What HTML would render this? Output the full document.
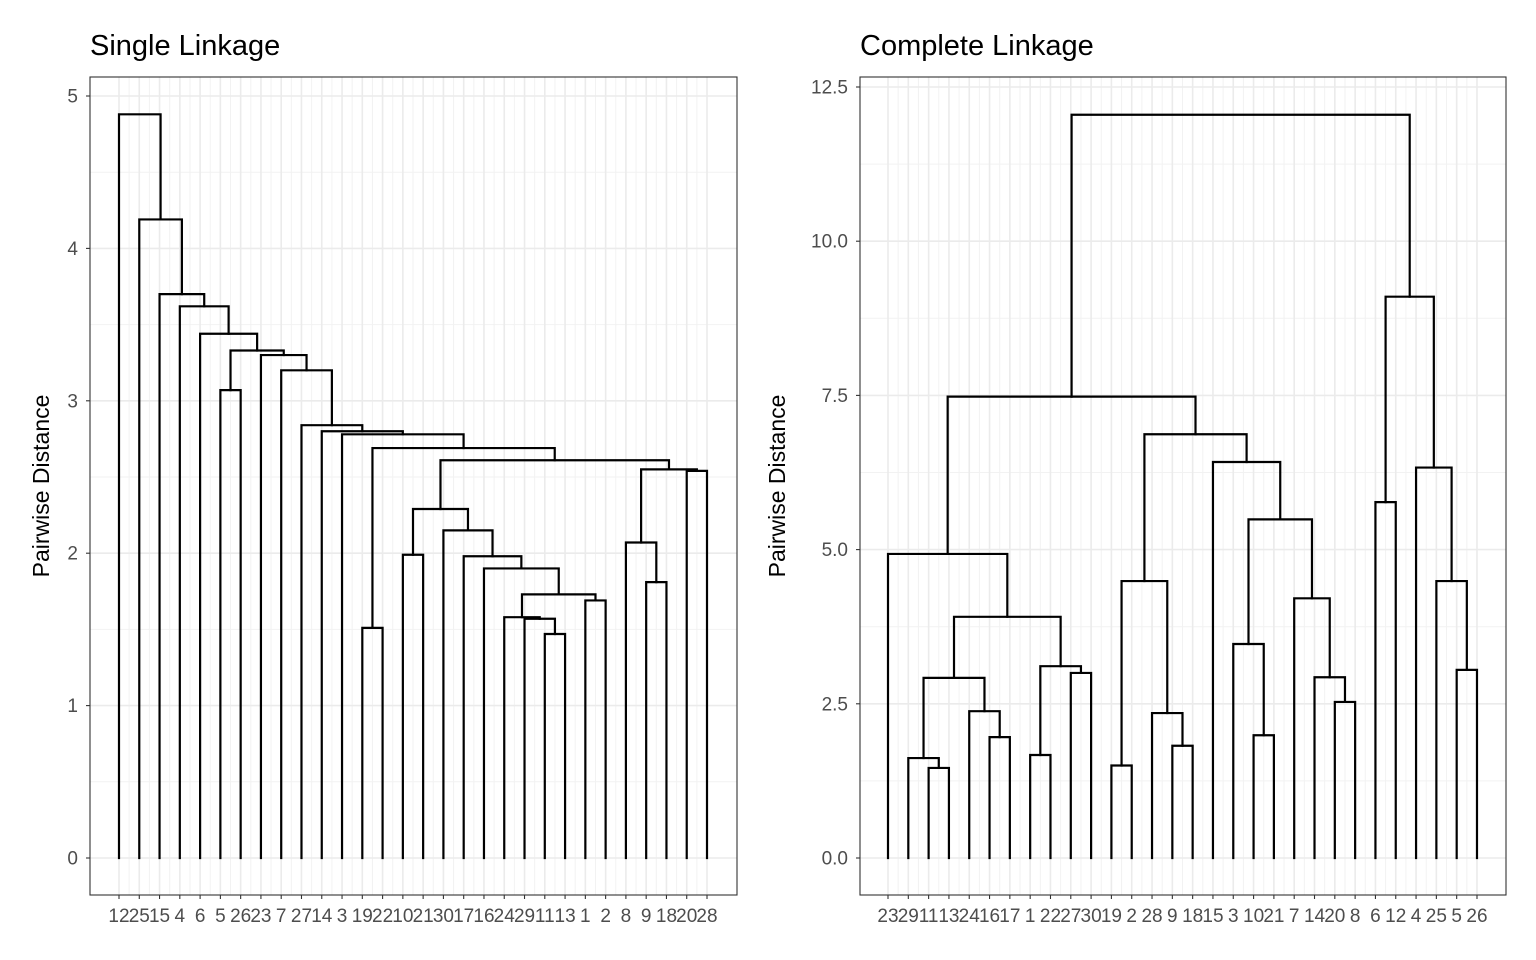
<!DOCTYPE html>
<html><head><meta charset="utf-8">
<style>
html,body{margin:0;padding:0;background:#fff;}
svg{display:block;font-family:"Liberation Sans",Arial,sans-serif;}
</style></head>
<body>
<svg id="chart" width="1536" height="960" viewBox="0 0 1536 960" xmlns="http://www.w3.org/2000/svg"></svg>
<script>
// ---- data ----
const singleLabels = [12,25,15,4,6,5,26,23,7,27,14,3,19,22,10,21,30,17,16,24,29,11,13,1,2,8,9,18,20,28];
const completeLabels = [23,29,11,13,24,16,17,1,22,27,30,19,2,28,9,18,15,3,10,21,7,14,20,8,6,12,4,25,5,26];
// nested merges: [left, right, height]; numbers = leaf index in order
const singleTree =
 [0,[1,[2,[3,[4,[[5,6,3.07],[7,[8,[9,[10,[11,[[12,13,1.51],
   [[[14,15,1.99],[16,[17,[18,[[19,[20,[21,22,1.47],1.57],1.58],[23,24,1.69],1.73],1.90],1.98],2.15],2.29],
    [[25,[26,27,1.81],2.07],[28,29,2.54],2.55],2.61],2.69],2.78],2.80],2.84],3.20],3.30],3.33],3.44],3.62],3.70],4.19],4.88];
const completeTree =
 [[[0,[[[1,[2,3,1.46],1.62],[4,[5,6,1.96],2.38],2.92],[[7,8,1.67],[9,10,3.00],3.11],3.91],4.93],
   [[[11,12,1.50],[13,[14,15,1.82],2.35],4.49],[16,[[17,[18,19,1.99],3.47],[20,[21,[22,23,2.53],2.93],4.21],5.49],6.42],6.87],7.48],
  [[24,25,5.77],[26,[27,[28,29,3.05],4.49],6.33],9.10],12.05];
const singleTicks = [0,1,2,3,4,5];
const singleTickLabels = ["0","1","2","3","4","5"];
const completeTicks = [0,2.5,5,7.5,10,12.5];
const completeTickLabels = ["0.0","2.5","5.0","7.5","10.0","12.5"];

const NS="http://www.w3.org/2000/svg";
const svg=document.getElementById('chart');
function mk(tag,attrs,parent){const e=document.createElementNS(NS,tag);for(const k in attrs)e.setAttribute(k,attrs[k]);(parent||svg).appendChild(e);return e;}

function panel(cfg){
  const g=mk('g',{});
  
  
  const {x0,x1,y0,y1}=cfg;
  const xs=i=>cfg.leaf0+i*cfg.leafStep;
  const ys=v=>cfg.zeroY-v*cfg.pxPerUnit;
  mk('rect',{x:x0,y:y0,width:x1-x0,height:y1-y0,fill:'#fff'},g);
  for(let k=0;k<cfg.ticks.length-1;k++){
    const v=(cfg.ticks[k]+cfg.ticks[k+1])/2;
    mk('line',{x1:x0,x2:x1,y1:ys(v),y2:ys(v),stroke:'#f2f2f2','stroke-width':1},g);
  }
  for(let i=0;i<cfg.labels.length-1;i++){
    const x=xs(i+0.5);
    mk('line',{x1:x,x2:x,y1:y0,y2:y1,stroke:'#f2f2f2','stroke-width':1},g);
  }
  cfg.ticks.forEach(v=>mk('line',{x1:x0,x2:x1,y1:ys(v),y2:ys(v),stroke:'#ebebeb','stroke-width':1.6},g));
  cfg.labels.forEach((l,i)=>mk('line',{x1:xs(i),x2:xs(i),y1:y0,y2:y1,stroke:'#ebebeb','stroke-width':1.6},g));
  const tg=mk('g',{stroke:'#000','stroke-width':2.2,fill:'none','stroke-linecap':'square'},g);
  
  
  function draw(n){
    if(typeof n==='number') return {x:xs(n),h:0};
    const a=draw(n[0]), b=draw(n[1]), h=n[2];
    const p=mk('path',{d:`M${a.x},${ys(a.h)}V${ys(h)}H${b.x}V${ys(b.h)}`},tg);
    
    
    return {x:(a.x+b.x)/2,h:h};
  }
  draw(cfg.tree);
  mk('rect',{x:x0,y:y0,width:x1-x0,height:y1-y0,fill:'none',stroke:'#333','stroke-width':1.1},g);
  cfg.ticks.forEach((v,k)=>{
    mk('line',{x1:x0-4,x2:x0,y1:ys(v),y2:ys(v),stroke:'#333','stroke-width':1.1},g);
    const t=mk('text',{x:x0-12,y:ys(v)+6.5,'text-anchor':'end','font-size':19,fill:'#4d4d4d'},g);
    t.textContent=cfg.tickLabels[k];
    
    
  });
  cfg.labels.forEach((l,i)=>{
    mk('line',{x1:xs(i),x2:xs(i),y1:y1,y2:y1+4,stroke:'#333','stroke-width':1.1},g);
    const t=mk('text',{x:xs(i),y:y1+27,'text-anchor':'middle','font-size':19,fill:'#4d4d4d'},g);
    t.textContent=l;
    
    
  });
  const tt=mk('text',{x:x0,y:55,'font-size':29,fill:'#000'},g);
  tt.textContent=cfg.title;
  
  
  const yl=mk('text',{x:0,y:0,'font-size':23,fill:'#000','text-anchor':'middle',transform:`translate(${cfg.ylabX},${(y0+y1)/2}) rotate(-90)`},g);
  yl.textContent='Pairwise Distance';
  
  
}
panel({name:'single-linkage-panel',title:'Single Linkage',x0:90,x1:737,y0:77,y1:895,leaf0:119,leafStep:20.276,zeroY:858,pxPerUnit:152.4,
  ticks:singleTicks,tickLabels:singleTickLabels,labels:singleLabels,tree:singleTree,ylabX:49});
panel({name:'complete-linkage-panel',title:'Complete Linkage',x0:860,x1:1506,y0:77,y1:895,leaf0:888,leafStep:20.31,zeroY:858,pxPerUnit:61.68,
  ticks:completeTicks,tickLabels:completeTickLabels,labels:completeLabels,tree:completeTree,ylabX:785});
</script>
</body></html>
